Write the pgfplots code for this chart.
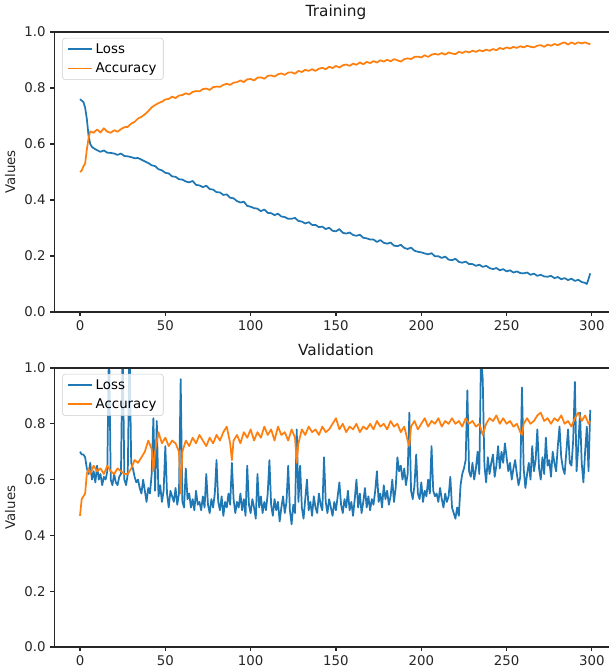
\documentclass[border=0pt]{standalone}
\usepackage{fontspec}
\setmainfont{DejaVu Sans}
\usepackage{pgfplots}
\usepackage{pgfplotstable}
\pgfplotsset{compat=1.18}

\definecolor{mplblue}{HTML}{1F77B4}
\definecolor{mplorange}{HTML}{FF7F0E}

% training history
\pgfplotstableread[row sep=\\]{x y\\
0 0.760\\ 1 0.755\\ 2 0.750\\ 3 0.730\\ 4 0.690\\ 5 0.630\\ 6 0.600\\ 7 0.590\\ 8 0.585\\ 10 0.578\\
12 0.572\\ 14 0.577\\ 16 0.569\\ 18 0.568\\ 20 0.566\\ 22 0.561\\ 24 0.566\\ 26 0.557\\ 28 0.556\\ 30 0.553\\
32 0.549\\ 34 0.550\\ 36 0.544\\ 38 0.538\\ 40 0.532\\ 42 0.524\\ 44 0.521\\ 46 0.510\\ 48 0.506\\ 50 0.497\\
52 0.495\\ 54 0.484\\ 56 0.483\\ 58 0.474\\ 60 0.473\\ 62 0.466\\ 64 0.463\\ 66 0.468\\ 68 0.454\\ 70 0.452\\
72 0.446\\ 74 0.451\\ 76 0.439\\ 78 0.437\\ 80 0.428\\ 82 0.427\\ 84 0.418\\ 86 0.420\\ 88 0.408\\ 90 0.406\\
92 0.396\\ 94 0.391\\ 96 0.394\\ 98 0.379\\ 100 0.376\\ 102 0.371\\ 104 0.369\\ 106 0.360\\ 108 0.366\\ 110 0.354\\
112 0.353\\ 114 0.346\\ 116 0.351\\ 118 0.341\\ 120 0.339\\ 122 0.333\\ 124 0.333\\ 126 0.336\\ 128 0.325\\ 130 0.323\\
132 0.316\\ 134 0.321\\ 136 0.311\\ 138 0.311\\ 140 0.303\\ 142 0.305\\ 144 0.296\\ 146 0.301\\ 148 0.290\\ 150 0.288\\
152 0.296\\ 154 0.283\\ 156 0.280\\ 158 0.284\\ 160 0.275\\ 162 0.272\\ 164 0.276\\ 166 0.265\\ 168 0.263\\ 170 0.259\\
172 0.259\\ 174 0.250\\ 176 0.257\\ 178 0.247\\ 180 0.244\\ 182 0.248\\ 184 0.237\\ 186 0.235\\ 188 0.240\\ 190 0.229\\
192 0.225\\ 194 0.230\\ 196 0.219\\ 198 0.215\\ 200 0.213\\ 202 0.209\\ 204 0.206\\ 206 0.210\\ 208 0.199\\ 210 0.199\\
212 0.193\\ 214 0.198\\ 216 0.187\\ 218 0.185\\ 220 0.190\\ 222 0.179\\ 224 0.176\\ 226 0.180\\ 228 0.171\\ 230 0.171\\
232 0.165\\ 234 0.169\\ 236 0.161\\ 238 0.165\\ 240 0.157\\ 242 0.153\\ 244 0.157\\ 246 0.149\\ 248 0.153\\ 250 0.145\\
252 0.149\\ 254 0.141\\ 256 0.145\\ 258 0.139\\ 260 0.138\\ 262 0.141\\ 264 0.133\\ 266 0.137\\ 268 0.129\\ 270 0.133\\
272 0.127\\ 274 0.126\\ 276 0.129\\ 278 0.121\\ 280 0.125\\ 282 0.117\\ 284 0.121\\ 286 0.114\\ 288 0.119\\ 290 0.111\\
292 0.115\\ 294 0.107\\ 296 0.104\\ 297 0.100\\ 298 0.118\\ 299 0.138\\
}\trainloss

\pgfplotstableread[row sep=\\]{x y\\
0 0.500\\ 1 0.505\\ 2 0.520\\ 3 0.530\\ 4 0.580\\ 5 0.620\\ 6 0.645\\ 8 0.640\\ 10 0.652\\ 12 0.641\\
14 0.656\\ 16 0.644\\ 18 0.640\\ 20 0.649\\ 22 0.644\\ 24 0.653\\ 26 0.660\\ 28 0.661\\ 30 0.673\\ 32 0.679\\
34 0.691\\ 36 0.697\\ 38 0.706\\ 40 0.717\\ 42 0.731\\ 44 0.739\\ 46 0.746\\ 48 0.751\\ 50 0.759\\ 52 0.761\\
54 0.769\\ 56 0.764\\ 58 0.773\\ 60 0.775\\ 62 0.781\\ 64 0.777\\ 66 0.786\\ 68 0.789\\ 70 0.788\\ 72 0.796\\
74 0.798\\ 76 0.793\\ 78 0.803\\ 80 0.805\\ 82 0.804\\ 84 0.811\\ 86 0.815\\ 88 0.811\\ 90 0.819\\ 92 0.821\\
94 0.827\\ 96 0.821\\ 98 0.831\\ 100 0.832\\ 102 0.827\\ 104 0.837\\ 106 0.838\\ 108 0.833\\ 110 0.843\\ 112 0.845\\
114 0.841\\ 116 0.849\\ 118 0.852\\ 120 0.847\\ 122 0.855\\ 124 0.856\\ 126 0.851\\ 128 0.861\\ 130 0.857\\ 132 0.865\\
134 0.861\\ 136 0.867\\ 138 0.861\\ 140 0.869\\ 142 0.872\\ 144 0.867\\ 146 0.876\\ 148 0.871\\ 150 0.879\\ 152 0.873\\
154 0.881\\ 156 0.884\\ 158 0.879\\ 160 0.887\\ 162 0.883\\ 164 0.891\\ 166 0.885\\ 168 0.893\\ 170 0.889\\ 172 0.896\\
174 0.891\\ 176 0.899\\ 178 0.894\\ 180 0.901\\ 182 0.895\\ 184 0.903\\ 186 0.899\\ 188 0.894\\ 190 0.903\\ 192 0.906\\
194 0.903\\ 196 0.911\\ 198 0.912\\ 200 0.909\\ 202 0.917\\ 204 0.911\\ 206 0.919\\ 208 0.922\\ 210 0.919\\ 212 0.925\\
214 0.919\\ 216 0.927\\ 218 0.923\\ 220 0.921\\ 222 0.929\\ 224 0.925\\ 226 0.931\\ 228 0.927\\ 230 0.933\\ 232 0.929\\
234 0.935\\ 236 0.931\\ 238 0.937\\ 240 0.933\\ 242 0.939\\ 244 0.935\\ 246 0.943\\ 248 0.939\\ 250 0.945\\ 252 0.941\\
254 0.947\\ 256 0.943\\ 258 0.949\\ 260 0.945\\ 262 0.951\\ 264 0.947\\ 266 0.945\\ 268 0.951\\ 270 0.953\\ 272 0.947\\
274 0.955\\ 276 0.951\\ 278 0.957\\ 280 0.953\\ 282 0.959\\ 284 0.963\\ 286 0.955\\ 288 0.963\\ 290 0.957\\ 292 0.963\\
294 0.959\\ 296 0.963\\ 298 0.958\\ 299 0.956\\
}\trainacc

% validation history
\pgfplotstableread[row sep=\\]{x y\\
0 0.70\\ 1 0.69\\ 2 0.69\\ 3 0.68\\ 4 0.64\\ 5 0.62\\ 6 0.66\\ 7 0.60\\ 8 0.63\\ 9 0.59\\
10 0.65\\ 11 0.60\\ 12 0.62\\ 13 0.58\\ 14 0.61\\ 15 0.60\\ 16 0.63\\ 17 1.10\\ 18 0.60\\ 19 0.58\\
20 0.62\\ 21 0.59\\ 22 0.58\\ 23 0.61\\ 24 0.62\\ 25 1.10\\ 26 0.60\\ 27 0.58\\ 28 0.62\\ 29 1.10\\
30 0.66\\ 31 0.64\\ 32 0.61\\ 33 0.59\\ 34 0.60\\ 35 0.57\\ 36 0.55\\ 37 0.60\\ 38 0.56\\ 39 0.52\\
40 0.57\\ 41 0.55\\ 42 0.62\\ 43 0.82\\ 44 0.56\\ 45 0.81\\ 46 0.54\\ 47 0.58\\ 48 0.52\\ 49 0.56\\
50 0.72\\ 51 0.55\\ 52 0.50\\ 53 0.56\\ 54 0.54\\ 55 0.52\\ 56 0.57\\ 57 0.51\\ 58 0.55\\ 59 0.96\\
60 0.52\\ 61 0.50\\ 62 0.64\\ 63 0.53\\ 64 0.55\\ 65 0.50\\ 66 0.53\\ 67 0.49\\ 68 0.56\\ 69 0.51\\
70 0.52\\ 71 0.49\\ 72 0.54\\ 73 0.50\\ 74 0.62\\ 75 0.51\\ 76 0.48\\ 77 0.53\\ 78 0.50\\ 79 0.55\\
80 0.67\\ 81 0.52\\ 82 0.49\\ 83 0.54\\ 84 0.47\\ 85 0.52\\ 86 0.50\\ 87 0.55\\ 88 0.51\\ 89 0.66\\
90 0.53\\ 91 0.48\\ 92 0.52\\ 93 0.50\\ 94 0.55\\ 95 0.49\\ 96 0.53\\ 97 0.47\\ 98 0.65\\ 99 0.51\\
100 0.48\\ 101 0.53\\ 102 0.50\\ 103 0.46\\ 104 0.62\\ 105 0.50\\ 106 0.54\\ 107 0.48\\ 108 0.52\\ 109 0.49\\
110 0.55\\ 111 0.67\\ 112 0.51\\ 113 0.47\\ 114 0.53\\ 115 0.49\\ 116 0.52\\ 117 0.45\\ 118 0.50\\ 119 0.54\\
120 0.48\\ 121 0.52\\ 122 0.65\\ 123 0.49\\ 124 0.44\\ 125 0.51\\ 126 0.48\\ 127 0.78\\ 128 0.52\\ 129 0.65\\
130 0.50\\ 131 0.46\\ 132 0.53\\ 133 0.60\\ 134 0.49\\ 135 0.52\\ 136 0.47\\ 137 0.54\\ 138 0.50\\ 139 0.48\\
140 0.55\\ 141 0.51\\ 142 0.49\\ 143 0.68\\ 144 0.52\\ 145 0.48\\ 146 0.53\\ 147 0.50\\ 148 0.47\\ 149 0.52\\
150 0.49\\ 151 0.54\\ 152 0.59\\ 153 0.51\\ 154 0.48\\ 155 0.53\\ 156 0.50\\ 157 0.56\\ 158 0.49\\ 159 0.52\\
160 0.47\\ 161 0.53\\ 162 0.60\\ 163 0.50\\ 164 0.55\\ 165 0.48\\ 166 0.52\\ 167 0.57\\ 168 0.50\\ 169 0.54\\
170 0.49\\ 171 0.53\\ 172 0.51\\ 173 0.56\\ 174 0.63\\ 175 0.52\\ 176 0.55\\ 177 0.50\\ 178 0.58\\ 179 0.53\\
180 0.56\\ 181 0.51\\ 182 0.54\\ 183 0.60\\ 184 0.52\\ 185 0.57\\ 186 0.68\\ 187 0.63\\ 188 0.65\\ 189 0.60\\
190 0.64\\ 191 0.58\\ 192 0.62\\ 193 0.84\\ 194 0.56\\ 195 0.53\\ 196 0.58\\ 197 0.69\\ 198 0.55\\ 199 0.53\\
200 0.59\\ 201 0.52\\ 202 0.56\\ 203 0.54\\ 204 0.60\\ 205 0.55\\ 206 0.72\\ 207 0.56\\ 208 0.54\\ 209 0.55\\
210 0.52\\ 211 0.57\\ 212 0.53\\ 213 0.50\\ 214 0.55\\ 215 0.52\\ 216 0.54\\ 217 0.61\\ 218 0.50\\ 219 0.48\\
220 0.46\\ 221 0.50\\ 222 0.47\\ 223 0.58\\ 224 0.62\\ 225 0.64\\ 226 0.67\\ 227 0.92\\ 228 0.63\\ 229 0.61\\
230 0.66\\ 231 0.60\\ 232 0.64\\ 233 0.70\\ 234 0.62\\ 235 1.05\\ 236 0.96\\ 237 0.65\\ 238 0.59\\ 239 0.68\\
240 0.62\\ 241 0.66\\ 242 0.69\\ 243 0.61\\ 244 0.65\\ 245 0.72\\ 246 0.64\\ 247 0.70\\ 248 0.66\\ 249 0.73\\
250 0.68\\ 251 0.63\\ 252 0.66\\ 253 0.60\\ 254 0.64\\ 255 0.67\\ 256 0.62\\ 257 0.58\\ 258 0.61\\ 259 0.93\\
260 0.64\\ 261 0.57\\ 262 0.62\\ 263 0.66\\ 264 0.60\\ 265 0.72\\ 266 0.63\\ 267 0.67\\ 268 0.78\\ 269 0.64\\
270 0.60\\ 271 0.68\\ 272 0.62\\ 273 0.75\\ 274 0.65\\ 275 0.67\\ 276 0.61\\ 277 0.70\\ 278 0.66\\ 279 0.63\\
280 0.72\\ 281 0.79\\ 282 0.68\\ 283 0.64\\ 284 0.62\\ 285 0.70\\ 286 0.78\\ 287 0.66\\ 288 0.65\\ 289 0.74\\
290 0.95\\ 291 0.63\\ 292 0.72\\ 293 0.84\\ 294 0.66\\ 295 0.59\\ 296 0.70\\ 297 0.79\\ 298 0.63\\ 299 0.85\\
}\valloss

\pgfplotstableread[row sep=\\]{x y\\
0 0.47\\ 1 0.53\\ 2 0.54\\ 3 0.55\\ 4 0.62\\ 5 0.64\\ 6 0.62\\ 8 0.65\\ 10 0.63\\ 12 0.64\\
14 0.62\\ 16 0.65\\ 18 0.63\\ 20 0.62\\ 22 0.64\\ 24 0.63\\ 26 0.62\\ 28 0.62\\ 30 0.64\\ 32 0.67\\
34 0.66\\ 36 0.68\\ 38 0.70\\ 40 0.74\\ 42 0.71\\ 43 0.63\\ 44 0.70\\ 46 0.77\\ 48 0.73\\ 50 0.75\\
52 0.72\\ 54 0.74\\ 56 0.73\\ 58 0.70\\ 59 0.55\\ 60 0.70\\ 62 0.74\\ 64 0.72\\ 66 0.75\\ 68 0.73\\
70 0.76\\ 72 0.74\\ 74 0.72\\ 76 0.75\\ 78 0.73\\ 80 0.76\\ 82 0.74\\ 84 0.77\\ 86 0.79\\ 88 0.73\\
89 0.67\\ 90 0.74\\ 92 0.76\\ 94 0.73\\ 96 0.77\\ 98 0.75\\ 100 0.78\\ 102 0.74\\ 104 0.77\\ 106 0.75\\
108 0.79\\ 110 0.76\\ 112 0.78\\ 114 0.74\\ 116 0.79\\ 118 0.76\\ 120 0.77\\ 122 0.74\\ 124 0.78\\ 126 0.75\\
127 0.66\\ 128 0.73\\ 130 0.78\\ 132 0.76\\ 134 0.79\\ 136 0.77\\ 138 0.78\\ 140 0.76\\ 142 0.79\\ 144 0.77\\
146 0.78\\ 148 0.80\\ 150 0.82\\ 152 0.78\\ 154 0.80\\ 156 0.77\\ 158 0.79\\ 160 0.78\\ 162 0.80\\ 164 0.77\\
166 0.79\\ 168 0.78\\ 170 0.80\\ 172 0.78\\ 174 0.81\\ 176 0.79\\ 178 0.80\\ 180 0.78\\ 182 0.81\\ 184 0.79\\
186 0.80\\ 188 0.77\\ 190 0.79\\ 192 0.74\\ 193 0.72\\ 194 0.79\\ 196 0.81\\ 198 0.78\\ 200 0.80\\ 202 0.82\\
204 0.79\\ 206 0.81\\ 208 0.80\\ 210 0.82\\ 212 0.79\\ 214 0.81\\ 216 0.80\\ 218 0.82\\ 220 0.80\\ 222 0.81\\
224 0.79\\ 226 0.82\\ 228 0.80\\ 230 0.81\\ 232 0.79\\ 234 0.80\\ 236 0.76\\ 238 0.80\\ 240 0.82\\ 242 0.81\\
244 0.83\\ 246 0.80\\ 248 0.82\\ 250 0.80\\ 252 0.81\\ 254 0.79\\ 256 0.80\\ 258 0.77\\ 259 0.76\\ 260 0.80\\
262 0.82\\ 264 0.80\\ 266 0.81\\ 268 0.83\\ 270 0.84\\ 272 0.81\\ 274 0.82\\ 276 0.80\\ 278 0.82\\ 280 0.81\\
282 0.83\\ 284 0.80\\ 286 0.81\\ 288 0.79\\ 290 0.82\\ 292 0.84\\ 294 0.81\\ 296 0.83\\ 298 0.80\\ 299 0.81\\
}\valacc

\pgfplotsset{
  histax/.style={
    scale only axis,
    width=415.95pt, height=210pt,
    xmin=-15, xmax=310, ymin=0, ymax=1,
    axis x line*=bottom, axis y line*=left,
    axis line style={black!85, line width=0.8pt},
    tick align=outside,
    major tick length=3pt,
    tick style={black!85, line width=0.8pt},
    xtick={0,50,100,150,200,250,300},
    ytick={0,0.2,0.4,0.6,0.8,1},
    yticklabel style={/pgf/number format/.cd, fixed, fixed zerofill, precision=1},
    /pgf/number format/assume math mode=true,
    ticklabel style={font=\fontsize{10}{12}\selectfont, text=black!85},
    ylabel={Values},
    ylabel style={font=\fontsize{10}{12}\selectfont, text=black!85},
    title style={at={(0.5077,1)}, anchor=south, font=\fontsize{11.5}{13}\selectfont, text=black!90, yshift=0pt},
    legend style={at={(0.0144,0.979)}, anchor=north west, draw=black!20, rounded corners=2pt,
      fill=white, fill opacity=0.8, text opacity=1, font=\fontsize{10}{12}\selectfont,
      inner xsep=3pt, inner ysep=2pt, row sep=1.5pt},
    legend cell align=left,
    legend image code/.code={\draw[#1] (0pt,0pt) -- (18.5pt,0pt);},
    every axis plot/.append style={line width=1.3pt, line join=round},
  }
}

\begin{document}
\begin{tikzpicture}
\useasboundingbox (0,0) rectangle (456.75pt,502.5pt);

\begin{axis}[histax, name=train, at={(40.8pt,268.5pt)}, anchor=south west, title={Training}]
\addplot[mplblue] table {\trainloss};
\addlegendentry{Loss}
\addplot[mplorange] table {\trainacc};
\addlegendentry{Accuracy}
\end{axis}
\draw[black!85, line width=0.8pt] (train.north west) -- (train.north east);

\begin{axis}[histax, name=val, at={(40.8pt,17.25pt)}, anchor=south west, height=209.25pt, title={Validation}]
\addplot[mplblue] table {\valloss};
\addlegendentry{Loss}
\addplot[mplorange] table {\valacc};
\addlegendentry{Accuracy}
\end{axis}
\draw[black!85, line width=0.8pt] (val.north west) -- (val.north east);
\end{tikzpicture}
\end{document}
